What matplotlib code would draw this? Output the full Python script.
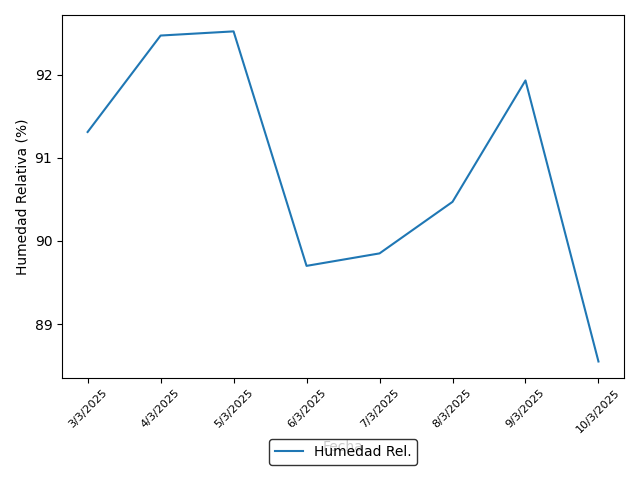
import matplotlib
matplotlib.use("Agg")
import matplotlib.pyplot as plt
from matplotlib.ticker import MultipleLocator

fechas = ["3/3/2025", "4/3/2025", "5/3/2025", "6/3/2025",
          "7/3/2025", "8/3/2025", "9/3/2025", "10/3/2025"]
humedad = [91.31, 92.47, 92.52, 89.70, 89.85, 90.47, 91.93, 88.55]

fig, ax = plt.subplots(figsize=(6.4, 4.8), dpi=100)
ax.plot(fechas, humedad, label="Humedad Rel.")
ax.set_xlabel("Fecha")
ax.set_ylabel("Humedad Relativa (%)")
ax.yaxis.set_major_locator(MultipleLocator(1))
ax.tick_params(axis="x", rotation=45, labelsize=8)
ax.legend(loc="upper center", bbox_to_anchor=(0.5, -0.15), edgecolor="black")
fig.subplots_adjust(left=0.097, right=0.975, top=0.969, bottom=0.2125)
plt.savefig("out.png")
